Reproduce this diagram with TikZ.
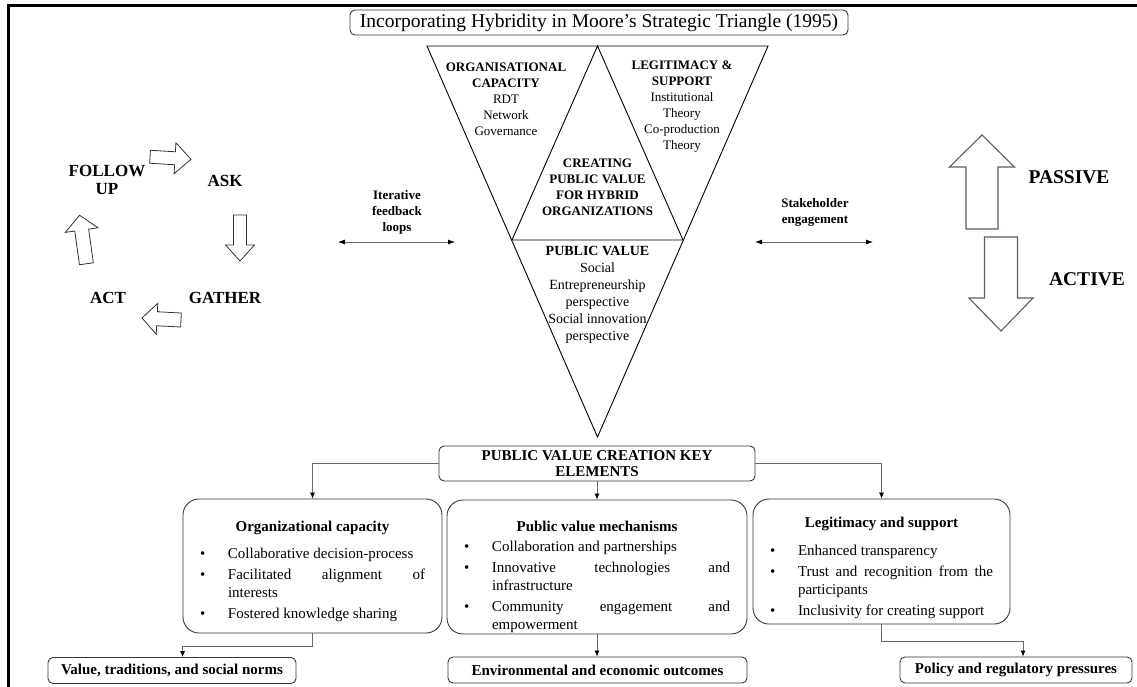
\documentclass[tikz,border=0pt]{standalone}
\usepackage{fontspec}
\setmainfont{Liberation Serif}
\usetikzlibrary{arrows.meta,positioning}
\tikzset{>=latex}
\definecolor{boxline}{RGB}{55,55,55}
\definecolor{conline}{RGB}{105,105,105}
\definecolor{arrowline}{RGB}{85,96,110}
\newcommand{\pvitem}[1]{\par\noindent\hangindent=28pt\hangafter=1\makebox[28pt][l]{\textbullet}#1}

\tikzset{
  titlebox/.style={draw=boxline, line width=0.9pt, rounded corners=5pt, minimum width=498pt, minimum height=25pt, inner sep=0pt, font=\fontsize{19.5}{20}\selectfont},
  tritext/.style={align=center, inner sep=0pt, font=\fontsize{13}{16}\selectfont},
  cyclelabel/.style={align=center, inner sep=0pt, font=\fontsize{17}{18}\selectfont\bfseries},
  sidelabel/.style={align=center, inner sep=0pt, font=\fontsize{13}{16}\selectfont\bfseries},
  modelabel/.style={inner sep=0pt, font=\fontsize{19.5}{20}\selectfont\bfseries},
  keybox/.style={draw=boxline, line width=0.9pt, rounded corners=5pt, align=center, minimum width=316pt, minimum height=35pt, inner sep=0pt, font=\fontsize{15}{16}\selectfont\bfseries},
  elembox/.style={draw=boxline, line width=0.9pt, rounded corners=16pt, inner xsep=17pt, inner ysep=0pt, anchor=base, align=justify, font=\fontsize{15}{18}\selectfont},
  outbox/.style={draw=boxline, line width=0.9pt, rounded corners=5pt, minimum height=26pt, inner sep=0pt, font=\fontsize{15}{16}\selectfont\bfseries},
  conn/.style={draw=conline, line width=0.7pt, -{Latex[length=6pt,width=5pt,color=black]}},
  biarrow/.style={draw=conline, line width=0.8pt, {Latex[length=7pt,width=5pt,color=black]}-{Latex[length=7pt,width=5pt,color=black]}},
  triline/.style={draw=black, line width=0.9pt, line join=miter},
  cyclearrow/.style={draw=black!80, line width=0.8pt, fill=white},
  modearrow/.style={draw=arrowline, line width=1.1pt, fill=white}
}

\begin{document}
\begin{tikzpicture}[x=1pt,y=-1pt]
\useasboundingbox (0,0) rectangle (1137,687);

% Frame
\draw[line width=3pt] (8,687) -- (8,6) -- (1137,6);

% Title
\node[titlebox] (title) at (599,22.5) {Incorporating Hybridity in Moore's Strategic Triangle (1995)};

% Strategic triangle
\coordinate (tl) at (427,46);
\coordinate (tr) at (768,46);
\coordinate (tm) at (597.5,46);
\coordinate (apex) at (597.5,437);
\coordinate (ml) at (512,240);
\coordinate (mr) at (683,240);
\draw[triline] (tl) -- (tr) -- (apex) -- cycle;
\draw[triline] (ml) -- (tm) -- (mr) -- cycle;

\node[tritext] (orgT) at (506,99) {\textbf{ORGANISATIONAL}\\\textbf{CAPACITY}\\RDT\\Network\\Governance};
\node[tritext] (legT) at (682,106.7) {\textbf{LEGITIMACY \&}\\\textbf{SUPPORT}\\Institutional\\Theory\\Co-production\\Theory};
\node[tritext] (hybT) at (597.5,187.5) {\textbf{CREATING}\\\textbf{PUBLIC VALUE}\\\textbf{FOR HYBRID}\\\textbf{ORGANIZATIONS}};
\node[tritext, font=\fontsize{14}{17}\selectfont] (pvT) at (597.5,295) {\textbf{PUBLIC VALUE}\\Social\\Entrepreneurship\\perspective\\Social innovation\\perspective};

% Engagement cycle
\node[cyclelabel] (follow) at (107,180) {FOLLOW\\UP};
\node[cyclelabel] (ask) at (225,181) {ASK};
\node[cyclelabel] (gather) at (225,298) {GATHER};
\node[cyclelabel] (act) at (108,298) {ACT};

\draw[cyclearrow, shift={(170.5,158)}, rotate=-3.5] (-20.5,-6.5) -- (4.5,-6.5) -- (4.5,-15.5) -- (20.5,0) -- (4.5,15.5) -- (4.5,6.5) -- (-20.5,6.5) -- cycle;
\draw[cyclearrow, shift={(240,238)}, rotate=-90] (-23,-6.5) -- (7,-6.5) -- (7,-14.5) -- (23,0) -- (7,14.5) -- (7,6.5) -- (-23,6.5) -- cycle;
\draw[cyclearrow, shift={(161.5,319)}, rotate=177] (-19.5,-7) -- (4.5,-7) -- (4.5,-15.5) -- (19.5,0) -- (4.5,15.5) -- (4.5,7) -- (-19.5,7) -- cycle;
\draw[cyclearrow, shift={(83,239.5)}, rotate=98] (-24.5,-7) -- (9.5,-7) -- (9.5,-16.5) -- (24.5,0) -- (9.5,16.5) -- (9.5,7) -- (-24.5,7) -- cycle;

% Feedback and engagement
\node[sidelabel] (loops) at (397,212.4) {Iterative\\feedback\\loops};
\coordinate (loopsL) at (338,242);
\coordinate (loopsR) at (455,242);
\draw[biarrow] (loopsL) -- (loopsR);

\node[sidelabel] (stake) at (815,212.5) {Stakeholder\\engagement};
\coordinate (stakeL) at (755,242);
\coordinate (stakeR) at (873,242);
\draw[biarrow] (stakeL) -- (stakeR);

% Passive / active
\draw[modearrow, shift={(982,182)}, rotate=90] (-47,-16) -- (15,-16) -- (15,-32.5) -- (47,0) -- (15,32.5) -- (15,16) -- (-47,16) -- cycle;
\draw[modearrow, shift={(1001,284)}, rotate=-90] (-47,-16.5) -- (14,-16.5) -- (14,-32) -- (47,0) -- (14,32) -- (14,16.5) -- (-47,16.5) -- cycle;
\node[modelabel] (passive) at (1069,177) {PASSIVE};
\node[modelabel] (active) at (1087,279) {ACTIVE};

% Key elements
\node[keybox] (key) at (597,463.5) {PUBLIC VALUE CREATION KEY\\ELEMENTS};

\node[elembox, text width=225pt, text height=32pt, text depth=102pt] (orgcap) at (312.5,531) {%
\setlength{\parskip}{3pt}%
{\centering\bfseries Organizational capacity\par}
\vspace{6pt}
\pvitem{Collaborative decision-process}
\pvitem{Facilitated alignment of\linebreak interests}
\pvitem{Fostered knowledge sharing}\par};

\node[elembox, text width=266pt, text height=31pt, text depth=103pt] (mech) at (597,531) {%
\setlength{\parskip}{3pt}%
{\centering\bfseries Public value mechanisms\par}
\vspace{-1pt}
\pvitem{Collaboration and partnerships}
\pvitem{Innovative technologies and\linebreak infrastructure}
\pvitem{Community engagement and\linebreak empowerment}\par};

\node[elembox, text width=223pt, text height=28pt, text depth=97pt] (legit) at (881.5,527) {%
\setlength{\parskip}{3pt}%
{\centering\bfseries Legitimacy and support\par}
\vspace{7pt}
\pvitem{Enhanced transparency}
\pvitem{Trust and recognition from the\linebreak participants}
\pvitem{Inclusivity for creating support}\par};

\draw[conn] (key.west) -| (orgcap.north);
\draw[conn] (key.south) -- (mech.north);
\draw[conn] (key.east) -| (legit.north);

% Outcomes
\node[outbox, minimum width=248pt] (values) at (172,670.5) {Value, traditions, and social norms};
\node[outbox, minimum width=299pt] (env) at (597.5,670) {Environmental and economic outcomes};
\node[outbox, minimum width=232pt] (policy) at (1016,670) {Policy and regulatory pressures};

\draw[conn] (orgcap.south) -- ++(0,13) -| (orgcap.south west |- values.north);
\draw[conn] (mech.south) -- (mech.south |- env.north);
\draw[conn] (legit.south) -- ++(0,17) -| ([xshift=7pt]policy.north);

\end{tikzpicture}
\end{document}
